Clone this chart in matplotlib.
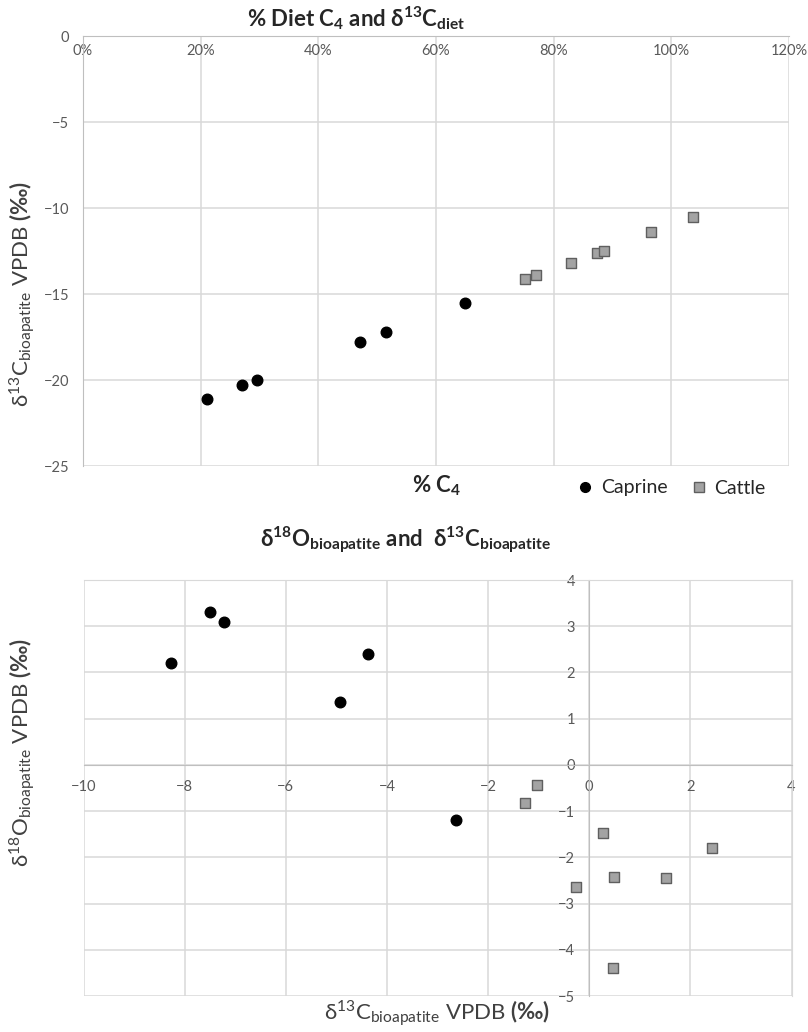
import matplotlib
matplotlib.use("Agg")
import matplotlib.pyplot as plt
from matplotlib.lines import Line2D

plt.rcParams['font.family'] = ['Lato', 'DejaVu Sans']
plt.rcParams['mathtext.fontset'] = 'custom'
plt.rcParams['mathtext.rm'] = 'Lato'
plt.rcParams['mathtext.bf'] = 'Lato:bold'
plt.rcParams['mathtext.default'] = 'regular'
plt.rcParams['mathtext.fallback'] = 'stixsans'

# top panel: % C4 in diet vs d13C bioapatite
caprine_pct = [21.1, 27.1, 29.5, 47.1, 51.5, 64.9]
caprine_d13c = [-21.1, -20.3, -20.0, -17.8, -17.2, -15.5]
cattle_pct = [75.1, 77.0, 82.9, 87.3, 88.5, 96.5, 103.6]
cattle_d13c = [-14.1, -13.9, -13.2, -12.6, -12.5, -11.4, -10.5]

# bottom panel: d13C vs d18O bioapatite
caprine_c = [-7.50, -7.23, -8.27, -4.37, -4.93, -2.64]
caprine_o = [3.31, 3.10, 2.21, 2.40, 1.36, -1.19]
cattle_c = [-1.03, -1.26, 0.27, 2.42, 0.49, 1.51, -0.27, 0.47]
cattle_o = [-0.43, -0.83, -1.48, -1.79, -2.43, -2.45, -2.65, -4.39]

pct_ticks = [0, 20, 40, 60, 80, 100, 120]
d13c_ticks = [-25, -20, -15, -10, -5, 0]
c_ticks = [-10, -8, -6, -4, -2, 0, 2, 4]
o_ticks = [-5, -4, -3, -2, -1, 0, 1, 2, 3, 4]

W, H = 808, 1032
GRID = '#d9d9d9'
AXIS = '#bfbfbf'
TICK = '#595959'
TXT = '#404040'
DARK = '#262626'


def px(x, y):
    return x / W, 1 - y / H


def style_points(ax, cx, cy, sx, sy):
    ax.scatter(cx, cy, s=58, c='black', marker='o', zorder=3, clip_on=False)
    ax.scatter(sx, sy, s=62, c='#a3a3a3', marker='s', edgecolors='#5f5f5f',
               linewidths=1.0, zorder=3, clip_on=False)


fig = plt.figure(figsize=(W / 100, H / 100), dpi=100)

# ---- top chart
ax1 = fig.add_axes([83 / W, 1 - 466 / H, 706 / W, 430 / H])
style_points(ax1, caprine_pct, caprine_d13c, cattle_pct, cattle_d13c)
ax1.set_xlim(0, 120)
ax1.set_ylim(-25, 0)
ax1.set_xticks(pct_ticks)
ax1.set_xticklabels([f'{p}%' for p in pct_ticks])
ax1.set_yticks(d13c_ticks)
ax1.grid(color=GRID, lw=1.1, zorder=0)
ax1.set_axisbelow(True)
for s in ['top', 'right']:
    ax1.spines[s].set_visible(False)
ax1.spines['bottom'].set_position(('data', 0))
ax1.spines['bottom'].set_color(AXIS)
ax1.spines['left'].set_color(AXIS)
ax1.tick_params(length=0, labelsize=10.5, labelcolor=TICK)
ax1.tick_params(axis='x', pad=6)
ax1.tick_params(axis='y', pad=10)

fig.text(*px(356, 18), r'% Diet C$_4$ and $δ^{13}C_{diet}$', ha='center', va='center',
         fontsize=16, fontweight='bold', color=DARK)
fig.text(*px(22, 294), r'$δ^{13}C_{bioapatite}$ VPDB $\mathbf{(‰)}$', rotation=90,
         ha='center', va='center', fontsize=16, color=TXT)
fig.text(*px(437, 486), r'% C$_4$', ha='center', va='center', fontsize=16,
         fontweight='bold', color=DARK)
handles = [Line2D([], [], ls='none', marker='o', color='black', markersize=7),
           Line2D([], [], ls='none', marker='s', markerfacecolor='#a3a3a3',
                  markeredgecolor='#5f5f5f', markersize=7)]
fig.legend(handles, ['Caprine', 'Cattle'], loc='center left', bbox_to_anchor=px(558, 488),
           ncol=2, frameon=False, fontsize=14, handletextpad=0.3, columnspacing=1.1,
           handlelength=1.0, labelcolor=DARK)

# ---- bottom chart
ax2 = fig.add_axes([83.5 / W, 1 - 996 / H, 708 / W, 416 / H])
style_points(ax2, caprine_c, caprine_o, cattle_c, cattle_o)
ax2.set_xlim(-10, 4)
ax2.set_ylim(-5, 4)
ax2.set_xticks(c_ticks)
ax2.set_yticks(o_ticks)
ax2.grid(color=GRID, lw=1.1, zorder=0)
ax2.set_axisbelow(True)
for s in ['top', 'right']:
    ax2.spines[s].set_color(GRID)
for s in ['left', 'bottom']:
    ax2.spines[s].set_position(('data', 0))
    ax2.spines[s].set_color(AXIS)
ax2.tick_params(length=0, labelsize=10.5, labelcolor=TICK)
ax2.tick_params(axis='x', pad=11)
ax2.tick_params(axis='y', pad=10)

fig.text(*px(405, 540), r'$δ^{18}O_{bioapatite}$ and  $δ^{13}C_{bioapatite}$',
         ha='center', va='center', fontsize=16, fontweight='bold', color=DARK)
fig.text(*px(22, 752), r'$δ^{18}O_{bioapatite}$ VPDB $\mathbf{(‰)}$', rotation=90,
         ha='center', va='center', fontsize=16, color=TXT)
fig.text(*px(437, 1013), r'$δ^{13}C_{bioapatite}$ VPDB $\mathbf{(‰)}$',
         ha='center', va='center', fontsize=16, color=TXT)

fig.savefig('out.png', dpi=100)
